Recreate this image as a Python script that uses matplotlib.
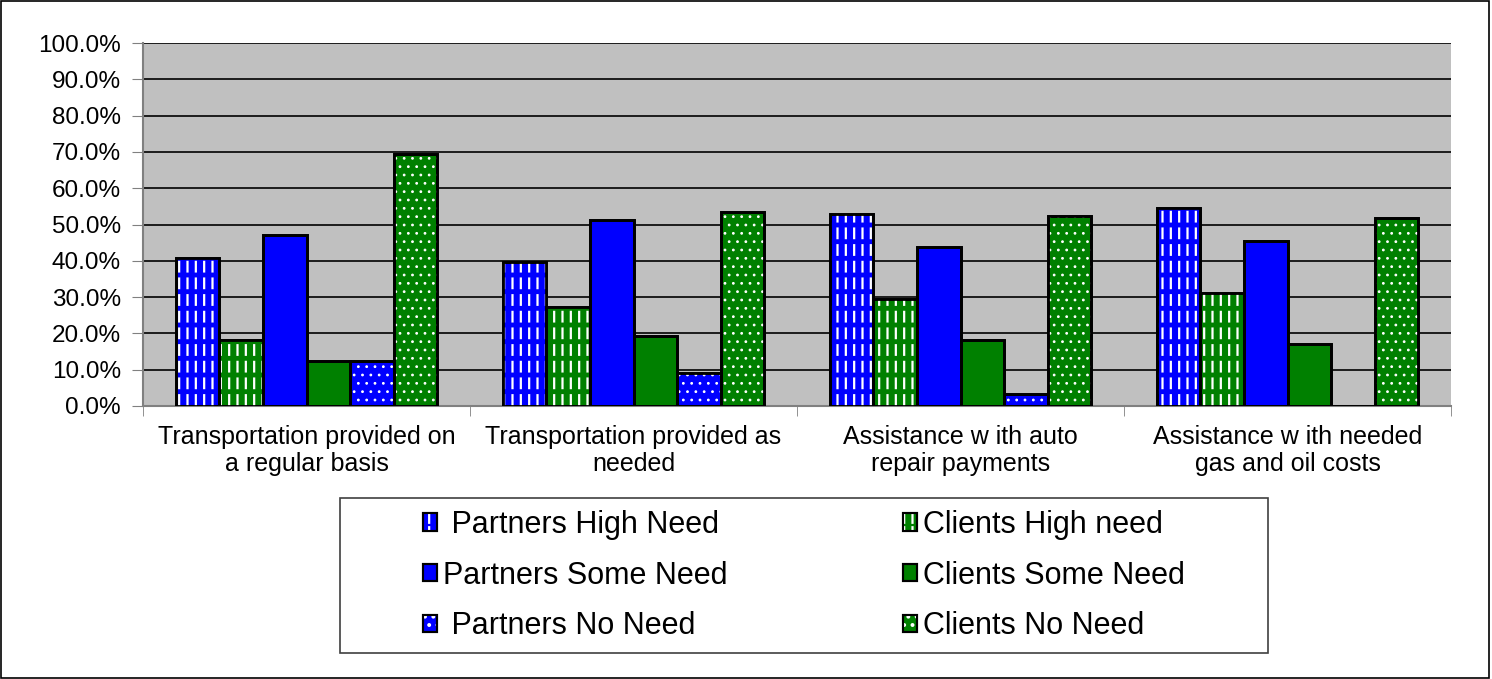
import matplotlib
matplotlib.use("Agg")
import matplotlib.pyplot as plt
import numpy as np
from matplotlib.patches import Patch, Rectangle
from matplotlib.legend_handler import HandlerTuple

plt.rcParams['font.family'] = ['Liberation Sans', 'DejaVu Sans']
plt.rcParams['hatch.linewidth'] = 1.6

categories = ["Transportation provided on\na regular basis",
              "Transportation provided as\nneeded",
              "Assistance w ith auto\nrepair payments",
              "Assistance w ith needed\ngas and oil costs"]
series_names = [" Partners High Need", "Clients High need",
                "Partners Some Need", "Clients Some Need",
                " Partners No Need", "Clients No Need"]
partners_high = [40.8, 39.7, 52.9, 54.5]
clients_high = [18.2, 27.3, 29.5, 31.1]
partners_some = [47.1, 51.2, 43.8, 45.5]
clients_some = [12.4, 19.3, 18.2, 17.1]
partners_none = [12.4, 9.0, 3.3, 0.0]
clients_none = [69.4, 53.5, 52.3, 51.8]
yticks = [0, 10, 20, 30, 40, 50, 60, 70, 80, 90, 100]

series = [partners_high, clients_high, partners_some, clients_some, partners_none, clients_none]
colors = ["#0000FF", "#008000", "#0000FF", "#008000", "#0000FF", "#008000"]
kinds = ["dash", "dash", None, None, "dot", "dot"]

fig = plt.figure(figsize=(14.92, 6.79), dpi=100)
ax = fig.add_axes([143/1492, 1-406/679, 1308/1492, 363/679])
ax.set_facecolor("#C0C0C0")

x = np.arange(len(categories))
w = 0.8/6
handles = {}


def overlays(target, pos, vals, col, kind, legend=False):
    """Draw white pattern overlays; returns list of patches for legend."""
    out = []
    if kind == "dash":
        with plt.rc_context({'hatch.linewidth': 1.6}):
            if legend:
                out.append(Patch(facecolor="none", edgecolor="white", hatch="||", linewidth=0))
            else:
                target.bar(pos, vals, width=w, facecolor="none", edgecolor="white", hatch="||",
                           linewidth=0, zorder=4)
        with plt.rc_context({'hatch.linewidth': 3.5}):
            if legend:
                out.append(Patch(facecolor="none", edgecolor=col, hatch="-", linewidth=0))
            else:
                target.bar(pos, vals, width=w, facecolor="none", edgecolor=col, hatch="-",
                           linewidth=0, zorder=4.5)
    elif kind == "dot":
        with plt.rc_context({'hatch.linewidth': 0.8}):
            if legend:
                out.append(Patch(facecolor="none", edgecolor="white", hatch="..", linewidth=0))
            else:
                target.bar(pos, vals, width=w, facecolor="none", edgecolor="white", hatch="..",
                           linewidth=0, zorder=4)
    return out


for i, (vals, col, k) in enumerate(zip(series, colors, kinds)):
    pos = x - 0.4 + w*(i+0.5)
    ax.bar(pos, vals, width=w, color=col, edgecolor="black", linewidth=2, zorder=3)
    overlays(ax, pos, vals, col, k)
    ax.bar(pos, vals, width=w, facecolor="none", edgecolor="black", linewidth=2, zorder=5)
    hd = [Patch(facecolor=col, edgecolor="black", linewidth=1.5)]
    hd += overlays(None, None, None, col, k, legend=True)
    hd.append(Patch(facecolor="none", edgecolor="black", linewidth=1.5))
    handles[series_names[i]] = tuple(hd)

ax.set_xlim(-0.5, 3.5)
ax.set_ylim(0, 100)
ax.set_yticks(yticks)
ax.set_yticklabels([f"{v:.1f}%" for v in yticks], fontsize=17.5)
ax.yaxis.grid(True, color="black", linewidth=1.2)
ax.set_axisbelow(True)
ax.set_xticks(x)
ax.set_xticklabels(categories, fontsize=18, linespacing=1.15)
ax.set_xticks(np.arange(-0.5, 4.0, 1.0), minor=True)
ax.tick_params(axis='x', which='major', length=0, pad=14)
ax.tick_params(axis='x', which='minor', length=7, color="#808080", direction='out')
ax.tick_params(axis='y', length=8, color="#808080", direction='out', pad=8)
for s in ["top", "right"]:
    ax.spines[s].set_visible(False)
for s in ["left", "bottom"]:
    ax.spines[s].set_color("#808080")
    ax.spines[s].set_linewidth(1.5)

# legend box
box = (340/1492, 1-653/679, 928/1492, 155/679)
fig.patches.append(Rectangle((box[0], box[1]), box[2], box[3], transform=fig.transFigure,
                             fill=False, edgecolor="#404040", linewidth=1.2))

order = [" Partners High Need", "Partners Some Need", " Partners No Need",
         "Clients High need", "Clients Some Need", "Clients No Need"]
leg = fig.legend([handles[k] for k in order], order,
                 handler_map={tuple: HandlerTuple(ndivide=1, pad=0)},
                 loc="center", bbox_to_anchor=box,
                 ncol=2, fontsize=22, frameon=False, borderaxespad=0,
                 handlelength=0.45, handleheight=0.5, handletextpad=0.2,
                 labelspacing=0.68, columnspacing=5.75, borderpad=0.3)

fig.patches.append(Rectangle((0.001, 0.002), 0.997, 0.996, transform=fig.transFigure,
                             fill=False, edgecolor="black", linewidth=1.2))

fig.savefig("out.png", dpi=100)
